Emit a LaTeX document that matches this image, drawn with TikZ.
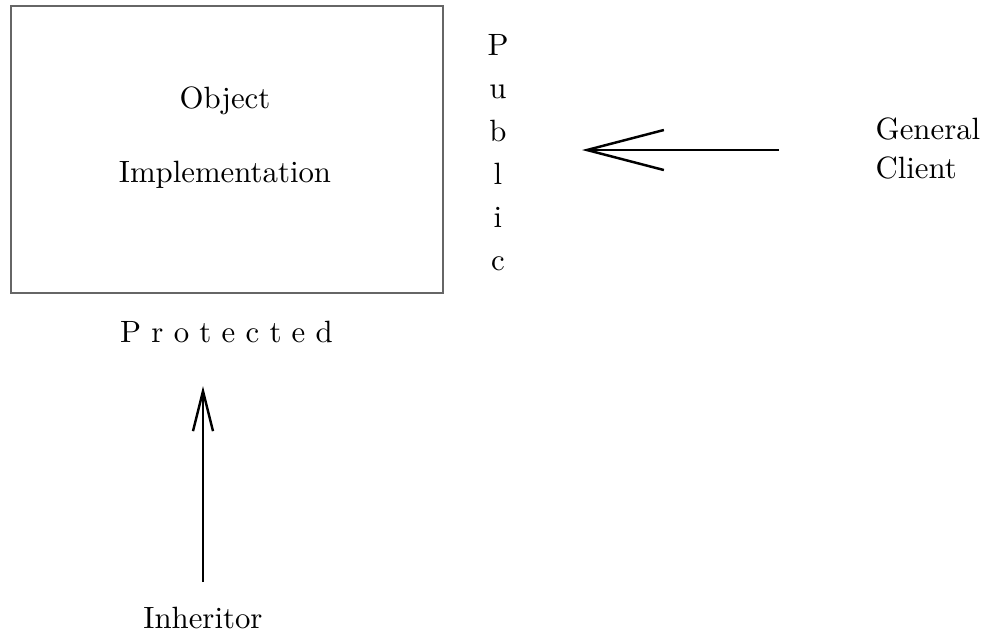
\documentclass[tikz,border=0pt]{standalone}
\usetikzlibrary{arrows.meta}
\begin{document}
\begin{tikzpicture}[x=0.3247pt,y=-0.3247pt,
  txt/.style={inner sep=0pt,font=\fontsize{10}{12}\selectfont},
  frame/.style={draw=black!60,line width=0.6pt,inner sep=0pt},
  flow/.style={line width=0.8pt}]
\useasboundingbox (0,0) rectangle (982,634);

% the object box
\node[frame,minimum width=140.27pt,minimum height=93.19pt] (impl) at (227,149.5) {};
\node[txt,align=center,anchor=north,font=\fontsize{10}{24}\selectfont]
  (impltext) at (225,86.6) {Object\\Implementation};

% interface labels
\node[txt,align=center,anchor=north,font=\fontsize{10}{14}\selectfont]
  (public) at (498,33.5) {P\\u\\b\\l\\i\\c};
\node[txt,anchor=base] (protected) at (226.5,342) {P r o t e c t e d};

% clients
\node[txt,align=left,anchor=north west,font=\fontsize{10}{12.7}\selectfont]
  (client) at (875,117) {General\\Client};
\node[txt,anchor=base] (inheritor) at (203,628) {Inheritor};

% access arrows
\coordinate (cstart) at (779,150);
\coordinate (ctip) at (582,150);
\coordinate (istart) at (203,582);
\coordinate (itip) at (203,386);
\draw[flow,-{Straight Barb[length=25pt,width=13pt]}] (cstart) -- (ctip);
\draw[flow,-{Straight Barb[length=13pt,width=6.5pt]}] (istart) -- (itip);
\end{tikzpicture}
\end{document}
